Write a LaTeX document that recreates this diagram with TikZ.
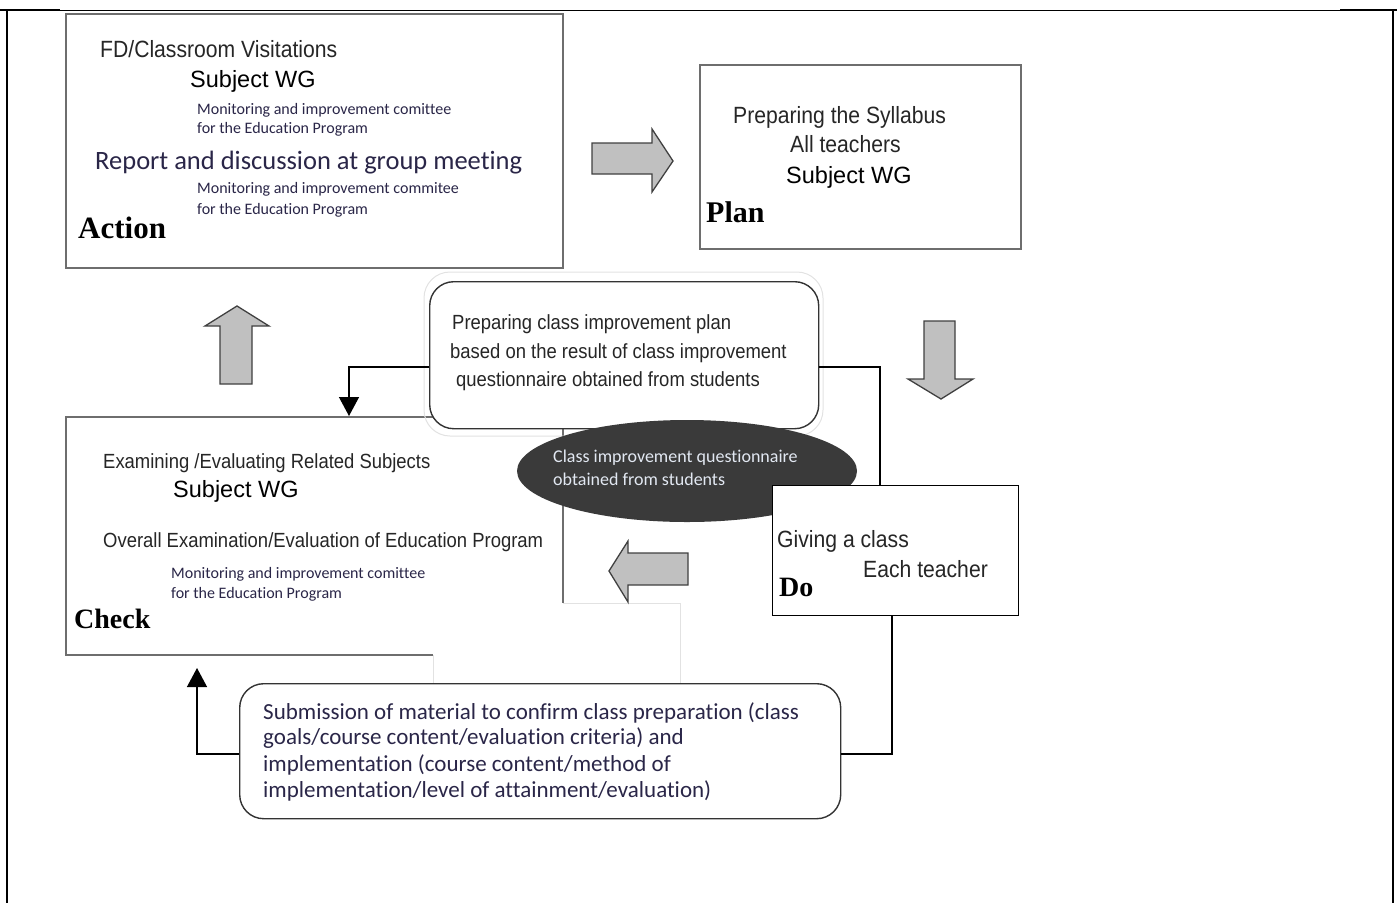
\documentclass[tikz,border=0pt]{standalone}
\usepackage{fontspec}
\setmainfont{Liberation Sans}
\newfontfamily\gfont[FakeStretch=0.9]{Liberation Sans}
\newfontfamily\cfont[Ligatures=NoCommon]{Carlito}
\newfontfamily\bfont{Liberation Serif}
\usetikzlibrary{arrows.meta,shapes.geometric}
\definecolor{txtgray}{HTML}{262626}
\definecolor{caltxt}{HTML}{2A2648}
\definecolor{boxedge}{HTML}{6E6E6E}
\definecolor{arrowfill}{HTML}{C0C0C0}
\definecolor{ellfill}{HTML}{3A3A3A}
\definecolor{elltxt}{HTML}{E2E8F2}
\definecolor{faint}{HTML}{E2E2E2}
\begin{document}
\begin{tikzpicture}[x=1pt,y=-1pt,
  pbox/.style={draw=boxedge, line width=2pt, fill=white, anchor=north west, inner sep=0pt},
  dbox/.style={draw=black, line width=1.3pt, fill=white, anchor=north west, inner sep=0pt},
  rbox/.style={draw=black!80, line width=1.4pt, fill=white, rounded corners=24pt, anchor=north west, inner sep=0pt},
  blockarrow/.style={draw=black!75, line width=1.3pt, fill=arrowfill, line join=miter},
  conn/.style={draw=black, line width=1.3pt},
  endtip/.style={-{Triangle[length=19pt,width=20pt]}},
  lbl/.style={anchor=base west, inner sep=0pt},
  gA/.style={lbl, font=\gfont\fontsize{23.5}{28}\selectfont, text=txtgray},
  gC/.style={lbl, font=\gfont\fontsize{20.5}{24}\selectfont, text=txtgray},
  wg/.style={lbl, font=\fontsize{23.5}{28}\selectfont, text=black},
  smalltxt/.style={lbl, font=\cfont\fontsize{16}{19}\selectfont, text=caltxt},
  subtxt/.style={lbl, font=\cfont\fontsize{23}{26}\selectfont, text=caltxt},
  elltext/.style={lbl, font=\cfont\fontsize{18}{21}\selectfont, text=elltxt},
  phase/.style={lbl, font=\bfont\bfseries\fontsize{#1}{#1}\selectfont, text=black},
  phase/.default=30,
]
\useasboundingbox (0,0) rectangle (1397,903);

% page frame
\draw[line width=1pt] (0,10) -- (1397,10);
\draw[line width=2.5pt] (0,10) -- (60,10);
\draw[line width=2.5pt] (1340,10) -- (1397,10);
\draw[line width=1.2pt] (7,10) -- (7,903);
\draw[line width=1.2pt] (1393,10) -- (1393,903);

% connector corner points
\coordinate (k1) at (349,367);
\coordinate (k2) at (880,367);
\coordinate (k3) at (892,754);
\coordinate (k4) at (197,754);
\coordinate (k5) at (197,668);

% main boxes
\node[pbox, minimum width=497pt, minimum height=254pt] (action) at (65,13) {};
\node[pbox, minimum width=321pt, minimum height=184pt] (plan) at (699,64) {};
\node[pbox, minimum width=497pt, minimum height=238pt] (check) at (65,416) {};

% white patch covering part of the Check box
\fill[white] (433,603) rectangle (680,684);
\draw[faint, line width=1pt] (433,655) -- (433,684);
\draw[faint, line width=1pt] (563,603) -- (680,603) -- (680,684);

% block arrows
\filldraw[blockarrow] (592,143) -- (652,143) -- (652,129) -- (673,161) -- (652,192) -- (652,174) -- (592,174) -- cycle;
\filldraw[blockarrow] (924,321) -- (955,321) -- (955,379) -- (973,379) -- (941,399) -- (908,379) -- (924,379) -- cycle;
\filldraw[blockarrow] (220,384) -- (252,384) -- (252,326) -- (269,326) -- (237,306) -- (205,326) -- (220,326) -- cycle;
\filldraw[blockarrow] (688,553) -- (688,585) -- (628,585) -- (628,602) -- (609,571) -- (628,541) -- (628,553) -- cycle;

% faint shadow outline of the improvement plan box
\draw[faint, line width=1pt, rounded corners=26pt] (424,272) rectangle (823,436);

% other nodes
\node[rbox, minimum width=389pt, minimum height=147pt] (prep) at (429,281) {};
\node[ellipse, fill=ellfill, draw=none, minimum width=340pt, minimum height=102pt, inner sep=0pt] (quest) at (687,471) {};
\node[dbox, minimum width=246pt, minimum height=130pt] (do) at (772,485) {};
\node[rbox, minimum width=601pt, minimum height=135pt] (sub) at (239,683) {};

% connectors
\draw[conn, endtip] (k1 -| prep.west) -- (k1) -- (k1 |- check.north);
\draw[conn] (k2 -| prep.east) -- (k2) -- (k2 |- do.north);
\draw[conn] (k3 |- do.south) -- (k3) -- (k3 -| sub.east);
\draw[conn, endtip] (k4 -| sub.west) -- (k4) -- (k5);

% Action texts
\node[gA] (a1) at (100,57) {FD/Classroom Visitations};
\node[wg] (a2) at (190,87) {Subject WG};
\node[smalltxt] (a3) at (197,114) {Monitoring and improvement comittee};
\node[smalltxt] (a4) at (197,133) {for the Education Program};
\node[lbl, font=\cfont\fontsize{26.5}{30}\selectfont, text=caltxt] (a5) at (95,169) {Report and discussion at group meeting};
\node[smalltxt] (a6) at (197,193) {Monitoring and improvement commitee};
\node[smalltxt] (a7) at (197,214) {for the Education Program};
\node[phase=31] (a8) at (78,238) {Action};

% Plan texts
\node[gA] (p1) at (733,123) {Preparing the Syllabus};
\node[gA] (p2) at (790,152) {All teachers};
\node[wg] (p3) at (786,183) {Subject WG};
\node[phase=30] (p4) at (706,222) {Plan};

% improvement plan box
\node[gC] (r1) at (452,329) {Preparing class improvement plan};
\node[gC] (r2) at (450,358) {based on the result of class improvement};
\node[gC] (r3) at (456,386) {questionnaire obtained from students};

% ellipse
\node[elltext] (e1) at (553,462) {Class improvement questionnaire};
\node[elltext] (e2) at (553,485) {obtained from students};

% Check texts
\node[gC] (c1) at (103,468) {Examining /Evaluating Related Subjects};
\node[wg] (c2) at (173,497) {Subject WG};
\node[gC] (c3) at (103,547) {Overall Examination/Evaluation of Education Program};
\node[smalltxt] (c4) at (171,578) {Monitoring and improvement comittee};
\node[smalltxt] (c5) at (171,598) {for the Education Program};
\node[phase=28] (c6) at (74,628) {Check};

% Do texts
\node[gA] (d1) at (777,547) {Giving a class};
\node[gA] (d2) at (863,577) {Each teacher};
\node[phase=28] (d3) at (779,596) {Do};

% submission box
\node[subtxt] (s1) at (263,719) {Submission of material to confirm class preparation (class};
\node[subtxt] (s2) at (263,744) {goals/course content/evaluation criteria) and};
\node[subtxt] (s3) at (263,771) {implementation (course content/method of};
\node[subtxt] (s4) at (263,797) {implementation/level of attainment/evaluation)};
\end{tikzpicture}
\end{document}
